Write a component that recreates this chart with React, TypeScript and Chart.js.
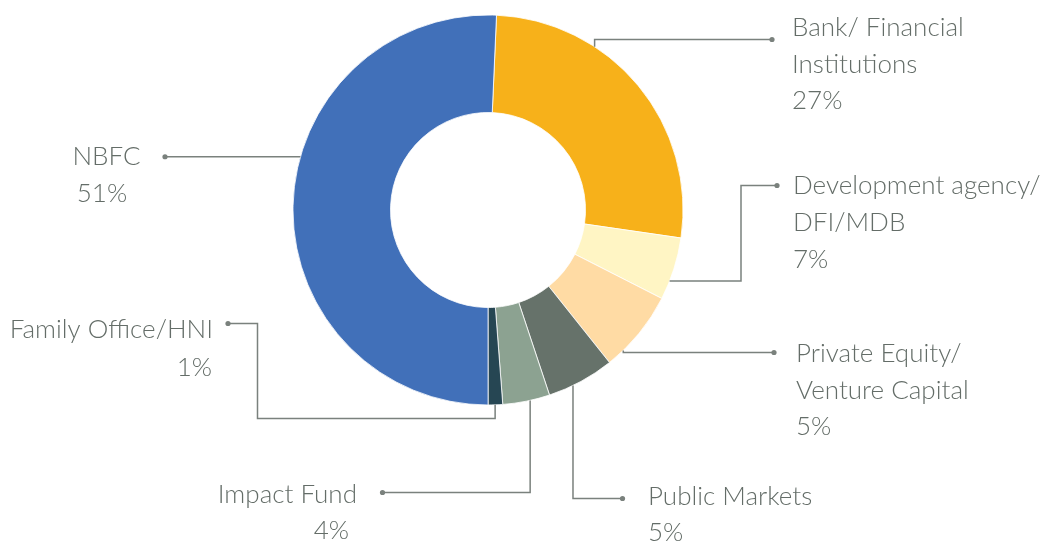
import { useEffect, useRef } from 'react';
import { Chart, ArcElement, DoughnutController } from 'chart.js';

Chart.register(ArcElement, DoughnutController);

// ---- data ----
const categories = [
  'Bank/ Financial Institutions',
  'Development agency/ DFI/MDB',
  'Private Equity/ Venture Capital',
  'Public Markets',
  'Impact Fund',
  'Family Office/HNI',
  'NBFC',
];
// slice sizes as drawn (share of the ring, %)
const sliceValues = [26.6, 5.2, 6.8, 5.6, 3.9, 1.2, 50.7];
// percentages printed on the labels
const percentLabels = ['27%', '7%', '5%', '5%', '4%', '1%', '51%'];
// how each category name is broken into lines on the label
const nameLines = [
  ['Bank/ Financial', 'Institutions'],
  ['Development agency/', 'DFI/MDB'],
  ['Private Equity/', 'Venture Capital'],
  ['Public Markets'],
  ['Impact Fund'],
  ['Family Office/HNI'],
  ['NBFC'],
];
const sliceColors = ['#F7B11A', '#FFF5C4', '#FFDBA4', '#66726A', '#8CA291', '#264653', '#4170B9'];

// ---- label layout (positions of callout text and leader routing) ----
type Step = { x?: number; y?: number };
type LineSpot = { x: number; y: number; align: CanvasTextAlign };
const labelLayout: { frac: number; route: Step[]; spots: LineSpot[] }[] = [
  {
    frac: 0.32,
    route: [{ y: 39.5 }, { x: 772 }],
    spots: [
      { x: 792, y: 36, align: 'left' },
      { x: 792, y: 72.5, align: 'left' },
      { x: 792, y: 109, align: 'left' },
    ],
  },
  {
    frac: 0.7,
    route: [{ x: 741 }, { y: 185.5 }, { x: 777 }],
    spots: [
      { x: 793, y: 194, align: 'left' },
      { x: 793, y: 231, align: 'left' },
      { x: 793, y: 268, align: 'left' },
    ],
  },
  {
    frac: 0.78,
    route: [{ y: 352.5 }, { x: 774 }],
    spots: [
      { x: 796, y: 362, align: 'left' },
      { x: 796, y: 398.5, align: 'left' },
      { x: 796, y: 435, align: 'left' },
    ],
  },
  {
    frac: 0.63,
    route: [{ y: 498.5 }, { x: 622.5 }],
    spots: [
      { x: 648, y: 505, align: 'left' },
      { x: 648, y: 541, align: 'left' },
    ],
  },
  {
    frac: 0.42,
    route: [{ y: 492.5 }, { x: 382.5 }],
    spots: [
      { x: 357, y: 503, align: 'right' },
      { x: 349, y: 539, align: 'right' },
    ],
  },
  {
    frac: 0.52,
    route: [{ y: 418.5 }, { x: 257.5 }, { y: 323.5 }, { x: 228 }],
    spots: [
      { x: 213, y: 338, align: 'right' },
      { x: 212, y: 376, align: 'right' },
    ],
  },
  {
    frac: 0.58,
    route: [{ x: 165 }],
    spots: [
      { x: 106.5, y: 165, align: 'center' },
      { x: 102, y: 201.5, align: 'center' },
    ],
  },
];

const TEXT_COLOR = '#646D68';
const LINE_COLOR = '#7A817D';
const FONT = '300 26px Lato';

const calloutPlugin = {
  id: 'callouts',
  afterDatasetsDraw(chart: any) {
    const ctx: CanvasRenderingContext2D = chart.ctx;
    const meta = chart.getDatasetMeta(0);
    ctx.save();
    meta.data.forEach((arc: any, i: number) => {
      const lay = labelLayout[i];
      if (!lay) return;
      const { x, y, startAngle, endAngle, outerRadius } = arc.getProps(
        ['x', 'y', 'startAngle', 'endAngle', 'outerRadius'],
        true
      );
      const a = startAngle + lay.frac * (endAngle - startAngle);
      let cx = x + outerRadius * Math.cos(a);
      let cy = y + outerRadius * Math.sin(a);
      ctx.beginPath();
      ctx.strokeStyle = LINE_COLOR;
      ctx.lineWidth = 1.5;
      ctx.moveTo(cx, cy);
      lay.route.forEach((s) => {
        if (s.x !== undefined) cx = s.x;
        if (s.y !== undefined) cy = s.y;
        ctx.lineTo(cx, cy);
      });
      ctx.stroke();
      ctx.beginPath();
      ctx.fillStyle = LINE_COLOR;
      ctx.arc(cx, cy, 2.6, 0, Math.PI * 2);
      ctx.fill();

      const lines = [...nameLines[i], percentLabels[i]];
      ctx.font = FONT;
      ctx.fillStyle = TEXT_COLOR;
      ctx.textBaseline = 'alphabetic';
      lines.forEach((t, k) => {
        const sp = lay.spots[k];
        if (!sp) return;
        ctx.textAlign = sp.align;
        ctx.fillText(t, sp.x, sp.y);
      });
    });
    ctx.restore();
  },
};

export default function App() {
  const ref = useRef<HTMLCanvasElement | null>(null);
  useEffect(() => {
    if (!ref.current) return;
    const chart = new Chart(ref.current, {
      type: 'doughnut',
      data: {
        labels: categories,
        datasets: [
          {
            data: sliceValues,
            backgroundColor: sliceColors,
            borderColor: '#ffffff',
            borderWidth: 0.8,
          },
        ],
      },
      options: {
        responsive: false,
        animation: false,
        rotation: 2.5,
        cutout: '50%',
        radius: 195,
        layout: { padding: { left: 0, right: 76, top: 0, bottom: 122 } },
        plugins: { legend: { display: false }, tooltip: { enabled: false } },
        events: [],
      } as any,
      plugins: [calloutPlugin],
    });
    return () => chart.destroy();
  }, []);
  return (
    <div style={{ position: 'fixed', left: 0, top: 0, width: 1052, height: 542, background: '#fff' }}>
      <canvas ref={ref} width={1052} height={542} style={{ width: 1052, height: 542 }} />
    </div>
  );
}
